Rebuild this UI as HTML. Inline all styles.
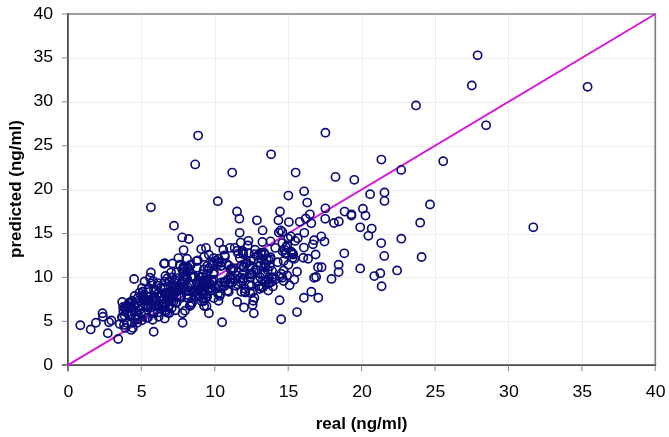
<!DOCTYPE html>
<html><head><meta charset="utf-8"><title>chart</title>
<style>
html,body{margin:0;padding:0;background:#fff;}
svg{display:block}
text{font-family:"Liberation Sans",Arial,sans-serif;fill:#000}
.t{font-size:16.8px}
.b{font-size:17px;font-weight:bold}
</style></head><body>
<svg width="669" height="437" viewBox="0 0 669 437">
<rect width="669" height="437" fill="#fff"/>
<path d="M141.5 14.0V365.2M67.9 321.5H655.3M215.5 14.0V365.2M67.9 277.5H655.3M288.5 14.0V365.2M67.9 234.5H655.3M362.5 14.0V365.2M67.9 190.5H655.3M435.5 14.0V365.2M67.9 146.5H655.3M508.5 14.0V365.2M67.9 102.5H655.3M582.5 14.0V365.2M67.9 58.5H655.3" stroke="#ededed" stroke-width="1" fill="none"/>
<path d="M67.9 14.0H655.3V365.2" fill="none" stroke="#808080" stroke-width="1.7"/>
<path d="M67.9 13.2V371.2M61.9 365.2H656.1" fill="none" stroke="#4a4a4a" stroke-width="1.8"/>
<path d="M67.9 365.2v6M67.9 365.2h-6M141.3 365.2v6M67.9 321.3h-6M214.8 365.2v6M67.9 277.4h-6M288.2 365.2v6M67.9 233.5h-6M361.6 365.2v6M67.9 189.6h-6M435.0 365.2v6M67.9 145.7h-6M508.5 365.2v6M67.9 101.8h-6M581.9 365.2v6M67.9 57.9h-6M655.3 365.2v6M67.9 14.0h-6" stroke="#8a8a8a" stroke-width="1" fill="none"/>
<text class="t" transform="translate(68.3 396.5) scale(1.054 1)" text-anchor="middle">0</text><text class="t" transform="translate(53.2 369.7) scale(1.054 1)" text-anchor="end">0</text>
<text class="t" transform="translate(141.7 396.5) scale(1.054 1)" text-anchor="middle">5</text><text class="t" transform="translate(53.2 325.8) scale(1.054 1)" text-anchor="end">5</text>
<text class="t" transform="translate(215.2 396.5) scale(1.054 1)" text-anchor="middle">10</text><text class="t" transform="translate(53.2 281.9) scale(1.054 1)" text-anchor="end">10</text>
<text class="t" transform="translate(288.6 396.5) scale(1.054 1)" text-anchor="middle">15</text><text class="t" transform="translate(53.2 238.0) scale(1.054 1)" text-anchor="end">15</text>
<text class="t" transform="translate(362.0 396.5) scale(1.054 1)" text-anchor="middle">20</text><text class="t" transform="translate(53.2 194.1) scale(1.054 1)" text-anchor="end">20</text>
<text class="t" transform="translate(435.4 396.5) scale(1.054 1)" text-anchor="middle">25</text><text class="t" transform="translate(53.2 150.2) scale(1.054 1)" text-anchor="end">25</text>
<text class="t" transform="translate(508.9 396.5) scale(1.054 1)" text-anchor="middle">30</text><text class="t" transform="translate(53.2 106.3) scale(1.054 1)" text-anchor="end">30</text>
<text class="t" transform="translate(582.3 396.5) scale(1.054 1)" text-anchor="middle">35</text><text class="t" transform="translate(53.2 62.4) scale(1.054 1)" text-anchor="end">35</text>
<text class="t" transform="translate(655.7 396.5) scale(1.054 1)" text-anchor="middle">40</text><text class="t" transform="translate(53.2 18.5) scale(1.054 1)" text-anchor="end">40</text>
<text class="b" x="361.5" y="428.5" text-anchor="middle">real (ng/ml)</text>
<text class="b" transform="translate(21.2 189) rotate(-90)" text-anchor="middle">predicted (ng/ml)</text>
<path d="M67.9 365.2L655.3 14.0" stroke="#d818d8" stroke-width="2" fill="none"/>
<g fill="none" stroke="#0a0a78" stroke-width="1.65">
<circle cx="477.6" cy="55.3" r="4.1"/><circle cx="471.8" cy="85.5" r="4.1"/><circle cx="486.1" cy="125.3" r="4.1"/><circle cx="587.6" cy="86.8" r="4.1"/><circle cx="443.2" cy="161.2" r="4.1"/><circle cx="401.2" cy="169.9" r="4.1"/><circle cx="430.0" cy="204.5" r="4.1"/><circle cx="420.2" cy="222.7" r="4.1"/><circle cx="533.3" cy="227.3" r="4.1"/><circle cx="421.6" cy="257.0" r="4.1"/><circle cx="325.4" cy="132.7" r="4.1"/><circle cx="271.1" cy="154.3" r="4.1"/><circle cx="295.6" cy="172.6" r="4.1"/><circle cx="335.5" cy="176.9" r="4.1"/><circle cx="354.3" cy="179.8" r="4.1"/><circle cx="381.4" cy="159.6" r="4.1"/><circle cx="288.4" cy="195.6" r="4.1"/><circle cx="304.1" cy="191.3" r="4.1"/><circle cx="307.2" cy="202.6" r="4.1"/><circle cx="370.1" cy="194.2" r="4.1"/><circle cx="384.5" cy="192.5" r="4.1"/><circle cx="384.5" cy="200.9" r="4.1"/><circle cx="198.1" cy="135.6" r="4.1"/><circle cx="195.2" cy="164.4" r="4.1"/><circle cx="232.2" cy="172.6" r="4.1"/><circle cx="217.8" cy="201.2" r="4.1"/><circle cx="416.0" cy="105.4" r="4.1"/><circle cx="362.9" cy="208.7" r="4.1"/><circle cx="365.5" cy="215.6" r="4.1"/><circle cx="344.6" cy="211.6" r="4.1"/><circle cx="351.4" cy="214.3" r="4.1"/><circle cx="351.4" cy="215.6" r="4.1"/><circle cx="334.0" cy="223.0" r="4.1"/><circle cx="338.8" cy="221.5" r="4.1"/><circle cx="360.2" cy="227.3" r="4.1"/><circle cx="371.7" cy="228.6" r="4.1"/><circle cx="368.4" cy="235.8" r="4.1"/><circle cx="401.3" cy="238.7" r="4.1"/><circle cx="381.2" cy="243.1" r="4.1"/><circle cx="344.3" cy="253.3" r="4.1"/><circle cx="384.3" cy="255.9" r="4.1"/><circle cx="338.6" cy="264.7" r="4.1"/><circle cx="360.2" cy="268.4" r="4.1"/><circle cx="338.6" cy="272.1" r="4.1"/><circle cx="331.5" cy="278.9" r="4.1"/><circle cx="374.3" cy="276.1" r="4.1"/><circle cx="380.3" cy="273.2" r="4.1"/><circle cx="397.1" cy="270.4" r="4.1"/><circle cx="381.6" cy="286.2" r="4.1"/><circle cx="237.0" cy="211.5" r="4.1"/><circle cx="239.4" cy="218.7" r="4.1"/><circle cx="256.9" cy="220.3" r="4.1"/><circle cx="239.7" cy="232.8" r="4.1"/><circle cx="262.6" cy="230.4" r="4.1"/><circle cx="280.0" cy="211.5" r="4.1"/><circle cx="278.4" cy="220.3" r="4.1"/><circle cx="278.8" cy="232.6" r="4.1"/><circle cx="282.3" cy="231.9" r="4.1"/><circle cx="280.6" cy="230.4" r="4.1"/><circle cx="288.9" cy="222.1" r="4.1"/><circle cx="325.4" cy="208.3" r="4.1"/><circle cx="309.9" cy="214.3" r="4.1"/><circle cx="305.7" cy="218.5" r="4.1"/><circle cx="299.7" cy="221.8" r="4.1"/><circle cx="311.3" cy="223.3" r="4.1"/><circle cx="325.2" cy="218.8" r="4.1"/><circle cx="304.3" cy="232.8" r="4.1"/><circle cx="290.8" cy="236.4" r="4.1"/><circle cx="321.3" cy="236.4" r="4.1"/><circle cx="288.1" cy="238.6" r="4.1"/><circle cx="314.1" cy="240.2" r="4.1"/><circle cx="324.5" cy="241.6" r="4.1"/><circle cx="312.9" cy="244.3" r="4.1"/><circle cx="303.9" cy="247.6" r="4.1"/><circle cx="315.6" cy="254.5" r="4.1"/><circle cx="303.3" cy="257.7" r="4.1"/><circle cx="308.1" cy="258.7" r="4.1"/><circle cx="318.0" cy="267.3" r="4.1"/><circle cx="321.6" cy="267.3" r="4.1"/><circle cx="297.0" cy="271.8" r="4.1"/><circle cx="314.1" cy="277.8" r="4.1"/><circle cx="316.1" cy="277.0" r="4.1"/><circle cx="294.3" cy="279.6" r="4.1"/><circle cx="294.3" cy="258.7" r="4.1"/><circle cx="282.4" cy="243.1" r="4.1"/><circle cx="287.2" cy="245.5" r="4.1"/><circle cx="290.8" cy="251.5" r="4.1"/><circle cx="286.0" cy="253.9" r="4.1"/><circle cx="293.2" cy="254.5" r="4.1"/><circle cx="283.6" cy="261.1" r="4.1"/><circle cx="288.4" cy="264.7" r="4.1"/><circle cx="283.6" cy="270.6" r="4.1"/><circle cx="287.2" cy="275.4" r="4.1"/><circle cx="282.4" cy="277.8" r="4.1"/><circle cx="289.6" cy="285.2" r="4.1"/><circle cx="283.6" cy="281.0" r="4.1"/><circle cx="311.3" cy="291.7" r="4.1"/><circle cx="303.9" cy="297.7" r="4.1"/><circle cx="318.3" cy="297.7" r="4.1"/><circle cx="297.0" cy="312.1" r="4.1"/><circle cx="279.6" cy="300.3" r="4.1"/><circle cx="281.2" cy="319.2" r="4.1"/><circle cx="219.1" cy="242.6" r="4.1"/><circle cx="240.7" cy="242.6" r="4.1"/><circle cx="248.4" cy="240.8" r="4.1"/><circle cx="247.8" cy="245.5" r="4.1"/><circle cx="262.4" cy="242.0" r="4.1"/><circle cx="270.6" cy="241.4" r="4.1"/><circle cx="206.0" cy="247.9" r="4.1"/><circle cx="201.2" cy="249.1" r="4.1"/><circle cx="223.3" cy="249.7" r="4.1"/><circle cx="229.9" cy="247.9" r="4.1"/><circle cx="234.7" cy="247.9" r="4.1"/><circle cx="237.1" cy="250.9" r="4.1"/><circle cx="255.0" cy="249.7" r="4.1"/><circle cx="275.3" cy="247.9" r="4.1"/><circle cx="204.2" cy="256.9" r="4.1"/><circle cx="213.8" cy="258.1" r="4.1"/><circle cx="207.2" cy="265.9" r="4.1"/><circle cx="182.2" cy="237.4" r="4.1"/><circle cx="188.8" cy="239.0" r="4.1"/><circle cx="183.6" cy="250.1" r="4.1"/><circle cx="178.4" cy="258.1" r="4.1"/><circle cx="187.0" cy="258.7" r="4.1"/><circle cx="164.8" cy="263.2" r="4.1"/><circle cx="164.0" cy="263.7" r="4.1"/><circle cx="172.6" cy="263.5" r="4.1"/><circle cx="150.9" cy="272.4" r="4.1"/><circle cx="149.9" cy="277.8" r="4.1"/><circle cx="134.1" cy="279.0" r="4.1"/><circle cx="144.5" cy="281.4" r="4.1"/><circle cx="165.4" cy="276.0" r="4.1"/><circle cx="196.5" cy="261.1" r="4.1"/><circle cx="190.0" cy="265.3" r="4.1"/><circle cx="179.8" cy="264.7" r="4.1"/><circle cx="182.2" cy="269.4" r="4.1"/><circle cx="134.7" cy="295.9" r="4.1"/><circle cx="122.2" cy="301.9" r="4.1"/><circle cx="102.5" cy="313.3" r="4.1"/><circle cx="103.0" cy="316.8" r="4.1"/><circle cx="95.9" cy="322.8" r="4.1"/><circle cx="80.3" cy="325.2" r="4.1"/><circle cx="111.4" cy="320.4" r="4.1"/><circle cx="109.0" cy="322.2" r="4.1"/><circle cx="119.8" cy="324.0" r="4.1"/><circle cx="125.8" cy="309.7" r="4.1"/><circle cx="129.4" cy="303.7" r="4.1"/><circle cx="134.1" cy="304.9" r="4.1"/><circle cx="124.6" cy="315.6" r="4.1"/><circle cx="131.7" cy="314.4" r="4.1"/><circle cx="136.5" cy="310.9" r="4.1"/><circle cx="127.0" cy="322.8" r="4.1"/><circle cx="131.7" cy="322.8" r="4.1"/><circle cx="137.7" cy="319.2" r="4.1"/><circle cx="90.7" cy="329.4" r="4.1"/><circle cx="107.8" cy="333.3" r="4.1"/><circle cx="118.2" cy="339.0" r="4.1"/><circle cx="124.0" cy="324.9" r="4.1"/><circle cx="125.2" cy="327.9" r="4.1"/><circle cx="132.9" cy="327.9" r="4.1"/><circle cx="135.3" cy="319.0" r="4.1"/><circle cx="142.0" cy="288.1" r="4.1"/><circle cx="182.6" cy="322.8" r="4.1"/><circle cx="164.7" cy="318.6" r="4.1"/><circle cx="152.7" cy="319.8" r="4.1"/><circle cx="182.6" cy="313.3" r="4.1"/><circle cx="204.1" cy="306.1" r="4.1"/><circle cx="208.9" cy="313.3" r="4.1"/><circle cx="201.7" cy="301.3" r="4.1"/><circle cx="153.7" cy="331.7" r="4.1"/><circle cx="158.7" cy="316.7" r="4.1"/><circle cx="169.5" cy="313.1" r="4.1"/><circle cx="142.0" cy="320.3" r="4.1"/><circle cx="131.2" cy="329.9" r="4.1"/><circle cx="175.4" cy="310.2" r="4.1"/><circle cx="185.0" cy="310.8" r="4.1"/><circle cx="165.9" cy="311.4" r="4.1"/><circle cx="206.5" cy="306.0" r="4.1"/><circle cx="189.8" cy="306.0" r="4.1"/><circle cx="137.2" cy="322.7" r="4.1"/><circle cx="146.7" cy="317.9" r="4.1"/><circle cx="222.1" cy="322.2" r="4.1"/><circle cx="237.1" cy="301.9" r="4.1"/><circle cx="244.0" cy="307.5" r="4.1"/><circle cx="253.8" cy="313.3" r="4.1"/><circle cx="252.6" cy="304.9" r="4.1"/><circle cx="254.4" cy="297.7" r="4.1"/><circle cx="253.2" cy="300.7" r="4.1"/><circle cx="268.2" cy="290.5" r="4.1"/><circle cx="272.9" cy="286.4" r="4.1"/><circle cx="218.5" cy="300.7" r="4.1"/><circle cx="219.7" cy="295.9" r="4.1"/><circle cx="207.2" cy="296.5" r="4.1"/><circle cx="241.3" cy="291.7" r="4.1"/><circle cx="244.8" cy="291.7" r="4.1"/><circle cx="228.7" cy="291.7" r="4.1"/><circle cx="250.2" cy="292.9" r="4.1"/><circle cx="265.2" cy="282.2" r="4.1"/><circle cx="275.3" cy="279.2" r="4.1"/><circle cx="257.4" cy="281.0" r="4.1"/><circle cx="235.9" cy="285.8" r="4.1"/><circle cx="242.5" cy="281.0" r="4.1"/><circle cx="251.4" cy="285.8" r="4.1"/><circle cx="230.5" cy="282.2" r="4.1"/><circle cx="223.9" cy="282.2" r="4.1"/><circle cx="215.5" cy="288.1" r="4.1"/><circle cx="210.8" cy="290.5" r="4.1"/><circle cx="202.4" cy="290.5" r="4.1"/><circle cx="203.6" cy="282.2" r="4.1"/><circle cx="212.0" cy="281.0" r="4.1"/><circle cx="219.1" cy="285.8" r="4.1"/><circle cx="174.0" cy="225.7" r="4.1"/><circle cx="208.9" cy="254.7" r="4.1"/><circle cx="197.0" cy="267.8" r="4.1"/><circle cx="150.9" cy="207.3" r="4.1"/><circle cx="200.1" cy="280.9" r="4.1"/><circle cx="225.3" cy="282.1" r="4.1"/><circle cx="230.5" cy="275.9" r="4.1"/><circle cx="202.3" cy="284.7" r="4.1"/><circle cx="209.0" cy="268.2" r="4.1"/><circle cx="169.8" cy="297.1" r="4.1"/><circle cx="187.9" cy="267.2" r="4.1"/><circle cx="285.3" cy="252.9" r="4.1"/><circle cx="260.8" cy="258.5" r="4.1"/><circle cx="264.2" cy="263.7" r="4.1"/><circle cx="151.5" cy="304.7" r="4.1"/><circle cx="137.7" cy="298.1" r="4.1"/><circle cx="172.6" cy="286.5" r="4.1"/><circle cx="155.7" cy="291.1" r="4.1"/><circle cx="129.7" cy="306.2" r="4.1"/><circle cx="185.1" cy="287.0" r="4.1"/><circle cx="268.1" cy="279.0" r="4.1"/><circle cx="295.1" cy="240.9" r="4.1"/><circle cx="250.0" cy="273.8" r="4.1"/><circle cx="153.9" cy="289.8" r="4.1"/><circle cx="148.8" cy="292.1" r="4.1"/><circle cx="238.2" cy="253.6" r="4.1"/><circle cx="122.5" cy="317.8" r="4.1"/><circle cx="130.0" cy="316.3" r="4.1"/><circle cx="246.9" cy="263.1" r="4.1"/><circle cx="243.4" cy="267.4" r="4.1"/><circle cx="263.0" cy="274.2" r="4.1"/><circle cx="187.1" cy="278.8" r="4.1"/><circle cx="251.4" cy="274.7" r="4.1"/><circle cx="197.9" cy="293.9" r="4.1"/><circle cx="205.5" cy="279.9" r="4.1"/><circle cx="172.0" cy="277.4" r="4.1"/><circle cx="198.2" cy="289.9" r="4.1"/><circle cx="152.9" cy="313.0" r="4.1"/><circle cx="187.5" cy="268.3" r="4.1"/><circle cx="208.3" cy="289.7" r="4.1"/><circle cx="292.7" cy="253.4" r="4.1"/><circle cx="167.2" cy="295.6" r="4.1"/><circle cx="174.7" cy="280.3" r="4.1"/><circle cx="141.3" cy="313.9" r="4.1"/><circle cx="160.2" cy="301.1" r="4.1"/><circle cx="199.0" cy="296.4" r="4.1"/><circle cx="153.1" cy="281.1" r="4.1"/><circle cx="203.8" cy="269.5" r="4.1"/><circle cx="180.3" cy="295.7" r="4.1"/><circle cx="189.2" cy="284.9" r="4.1"/><circle cx="250.4" cy="277.4" r="4.1"/><circle cx="202.2" cy="291.6" r="4.1"/><circle cx="263.1" cy="287.3" r="4.1"/><circle cx="180.8" cy="289.8" r="4.1"/><circle cx="258.9" cy="286.0" r="4.1"/><circle cx="148.2" cy="289.0" r="4.1"/><circle cx="212.1" cy="287.8" r="4.1"/><circle cx="292.5" cy="258.0" r="4.1"/><circle cx="170.0" cy="299.4" r="4.1"/><circle cx="220.2" cy="294.0" r="4.1"/><circle cx="213.5" cy="279.7" r="4.1"/><circle cx="212.0" cy="281.5" r="4.1"/><circle cx="207.3" cy="281.5" r="4.1"/><circle cx="193.0" cy="277.6" r="4.1"/><circle cx="139.6" cy="309.9" r="4.1"/><circle cx="175.0" cy="291.1" r="4.1"/><circle cx="260.9" cy="252.6" r="4.1"/><circle cx="243.8" cy="278.3" r="4.1"/><circle cx="138.8" cy="300.5" r="4.1"/><circle cx="197.2" cy="283.7" r="4.1"/><circle cx="145.7" cy="304.6" r="4.1"/><circle cx="253.8" cy="259.6" r="4.1"/><circle cx="281.1" cy="273.8" r="4.1"/><circle cx="164.3" cy="298.5" r="4.1"/><circle cx="139.4" cy="292.7" r="4.1"/><circle cx="242.9" cy="251.1" r="4.1"/><circle cx="210.1" cy="288.0" r="4.1"/><circle cx="151.2" cy="283.2" r="4.1"/><circle cx="218.6" cy="258.7" r="4.1"/><circle cx="133.7" cy="309.7" r="4.1"/><circle cx="176.8" cy="289.9" r="4.1"/><circle cx="273.0" cy="277.3" r="4.1"/><circle cx="191.4" cy="284.4" r="4.1"/><circle cx="265.1" cy="273.7" r="4.1"/><circle cx="265.7" cy="280.1" r="4.1"/><circle cx="279.7" cy="276.6" r="4.1"/><circle cx="191.5" cy="276.5" r="4.1"/><circle cx="203.2" cy="287.4" r="4.1"/><circle cx="232.1" cy="282.8" r="4.1"/><circle cx="178.8" cy="286.7" r="4.1"/><circle cx="230.5" cy="269.2" r="4.1"/><circle cx="234.7" cy="278.7" r="4.1"/><circle cx="203.7" cy="285.9" r="4.1"/><circle cx="194.3" cy="276.8" r="4.1"/><circle cx="169.1" cy="292.4" r="4.1"/><circle cx="171.1" cy="272.5" r="4.1"/><circle cx="145.1" cy="312.4" r="4.1"/><circle cx="291.7" cy="252.5" r="4.1"/><circle cx="204.8" cy="281.4" r="4.1"/><circle cx="203.1" cy="274.1" r="4.1"/><circle cx="214.2" cy="286.2" r="4.1"/><circle cx="200.7" cy="277.5" r="4.1"/><circle cx="252.6" cy="291.8" r="4.1"/><circle cx="261.9" cy="254.7" r="4.1"/><circle cx="243.4" cy="279.1" r="4.1"/><circle cx="123.3" cy="311.0" r="4.1"/><circle cx="241.8" cy="265.3" r="4.1"/><circle cx="205.0" cy="292.1" r="4.1"/><circle cx="272.0" cy="281.7" r="4.1"/><circle cx="232.0" cy="270.1" r="4.1"/><circle cx="164.0" cy="307.0" r="4.1"/><circle cx="176.5" cy="296.6" r="4.1"/><circle cx="184.7" cy="267.7" r="4.1"/><circle cx="220.9" cy="265.9" r="4.1"/><circle cx="260.2" cy="277.3" r="4.1"/><circle cx="131.2" cy="307.3" r="4.1"/><circle cx="142.6" cy="295.1" r="4.1"/><circle cx="285.9" cy="247.2" r="4.1"/><circle cx="175.1" cy="292.9" r="4.1"/><circle cx="183.3" cy="281.9" r="4.1"/><circle cx="188.1" cy="298.3" r="4.1"/><circle cx="216.5" cy="260.7" r="4.1"/><circle cx="237.1" cy="275.6" r="4.1"/><circle cx="262.6" cy="280.7" r="4.1"/><circle cx="254.7" cy="254.1" r="4.1"/><circle cx="258.4" cy="263.0" r="4.1"/><circle cx="178.8" cy="289.0" r="4.1"/><circle cx="250.1" cy="265.6" r="4.1"/><circle cx="269.7" cy="282.3" r="4.1"/><circle cx="213.4" cy="274.0" r="4.1"/><circle cx="194.2" cy="291.4" r="4.1"/><circle cx="147.2" cy="305.6" r="4.1"/><circle cx="127.0" cy="313.0" r="4.1"/><circle cx="260.3" cy="265.8" r="4.1"/><circle cx="224.6" cy="255.3" r="4.1"/><circle cx="150.3" cy="307.7" r="4.1"/><circle cx="226.6" cy="263.7" r="4.1"/><circle cx="148.1" cy="307.0" r="4.1"/><circle cx="205.2" cy="286.2" r="4.1"/><circle cx="217.8" cy="262.7" r="4.1"/><circle cx="265.1" cy="267.3" r="4.1"/><circle cx="167.1" cy="278.4" r="4.1"/><circle cx="203.9" cy="290.8" r="4.1"/><circle cx="228.7" cy="265.4" r="4.1"/><circle cx="164.3" cy="306.7" r="4.1"/><circle cx="165.6" cy="304.8" r="4.1"/><circle cx="131.3" cy="301.9" r="4.1"/><circle cx="203.2" cy="298.0" r="4.1"/><circle cx="172.5" cy="291.2" r="4.1"/><circle cx="269.7" cy="266.2" r="4.1"/><circle cx="173.9" cy="282.2" r="4.1"/><circle cx="202.9" cy="289.8" r="4.1"/><circle cx="135.7" cy="317.0" r="4.1"/><circle cx="237.6" cy="284.2" r="4.1"/><circle cx="160.2" cy="296.1" r="4.1"/><circle cx="264.7" cy="254.6" r="4.1"/><circle cx="185.9" cy="278.1" r="4.1"/><circle cx="188.9" cy="270.7" r="4.1"/><circle cx="252.0" cy="273.6" r="4.1"/><circle cx="142.2" cy="301.5" r="4.1"/><circle cx="190.8" cy="265.1" r="4.1"/><circle cx="158.1" cy="293.4" r="4.1"/><circle cx="195.4" cy="295.3" r="4.1"/><circle cx="268.7" cy="260.0" r="4.1"/><circle cx="177.6" cy="278.1" r="4.1"/><circle cx="210.7" cy="284.2" r="4.1"/><circle cx="145.5" cy="300.3" r="4.1"/><circle cx="212.0" cy="263.2" r="4.1"/><circle cx="152.8" cy="301.8" r="4.1"/><circle cx="245.7" cy="263.9" r="4.1"/><circle cx="202.1" cy="281.9" r="4.1"/><circle cx="217.1" cy="265.0" r="4.1"/><circle cx="268.1" cy="283.9" r="4.1"/><circle cx="169.7" cy="295.2" r="4.1"/><circle cx="122.0" cy="317.1" r="4.1"/><circle cx="173.2" cy="290.2" r="4.1"/><circle cx="265.5" cy="264.4" r="4.1"/><circle cx="142.6" cy="298.3" r="4.1"/><circle cx="165.0" cy="287.8" r="4.1"/><circle cx="240.8" cy="277.7" r="4.1"/><circle cx="203.4" cy="289.8" r="4.1"/><circle cx="192.1" cy="302.4" r="4.1"/><circle cx="213.8" cy="298.1" r="4.1"/><circle cx="175.6" cy="302.8" r="4.1"/><circle cx="227.1" cy="279.9" r="4.1"/><circle cx="129.0" cy="307.2" r="4.1"/><circle cx="213.9" cy="272.6" r="4.1"/><circle cx="159.9" cy="308.2" r="4.1"/><circle cx="171.7" cy="307.9" r="4.1"/><circle cx="267.7" cy="270.3" r="4.1"/><circle cx="124.5" cy="307.9" r="4.1"/><circle cx="203.9" cy="301.0" r="4.1"/><circle cx="282.8" cy="251.3" r="4.1"/><circle cx="203.9" cy="285.1" r="4.1"/><circle cx="174.2" cy="287.2" r="4.1"/><circle cx="157.5" cy="285.6" r="4.1"/><circle cx="159.8" cy="296.9" r="4.1"/><circle cx="167.5" cy="312.8" r="4.1"/><circle cx="197.9" cy="260.5" r="4.1"/><circle cx="227.5" cy="290.7" r="4.1"/><circle cx="132.2" cy="300.8" r="4.1"/><circle cx="255.6" cy="269.5" r="4.1"/><circle cx="149.5" cy="300.7" r="4.1"/><circle cx="261.6" cy="287.2" r="4.1"/><circle cx="243.3" cy="254.2" r="4.1"/><circle cx="261.0" cy="253.0" r="4.1"/><circle cx="197.9" cy="282.7" r="4.1"/><circle cx="207.0" cy="279.6" r="4.1"/><circle cx="248.9" cy="253.2" r="4.1"/><circle cx="144.2" cy="300.5" r="4.1"/><circle cx="164.9" cy="310.5" r="4.1"/><circle cx="221.8" cy="262.6" r="4.1"/><circle cx="143.2" cy="296.8" r="4.1"/><circle cx="231.5" cy="278.8" r="4.1"/><circle cx="147.9" cy="307.5" r="4.1"/><circle cx="270.6" cy="259.3" r="4.1"/><circle cx="183.8" cy="276.2" r="4.1"/><circle cx="142.9" cy="291.7" r="4.1"/><circle cx="258.0" cy="255.2" r="4.1"/><circle cx="183.7" cy="278.8" r="4.1"/><circle cx="191.0" cy="276.7" r="4.1"/><circle cx="245.2" cy="292.5" r="4.1"/><circle cx="202.0" cy="284.8" r="4.1"/><circle cx="156.1" cy="299.6" r="4.1"/><circle cx="146.5" cy="300.5" r="4.1"/><circle cx="173.4" cy="301.7" r="4.1"/><circle cx="154.1" cy="305.6" r="4.1"/><circle cx="183.5" cy="272.3" r="4.1"/><circle cx="164.8" cy="293.9" r="4.1"/><circle cx="183.2" cy="289.3" r="4.1"/><circle cx="250.6" cy="260.7" r="4.1"/><circle cx="187.5" cy="287.0" r="4.1"/><circle cx="212.6" cy="265.1" r="4.1"/><circle cx="194.9" cy="292.6" r="4.1"/><circle cx="164.4" cy="281.7" r="4.1"/><circle cx="168.1" cy="297.8" r="4.1"/><circle cx="158.0" cy="283.1" r="4.1"/><circle cx="221.3" cy="265.8" r="4.1"/><circle cx="240.7" cy="282.6" r="4.1"/><circle cx="240.0" cy="258.3" r="4.1"/><circle cx="233.6" cy="268.1" r="4.1"/><circle cx="127.2" cy="306.4" r="4.1"/><circle cx="145.5" cy="299.2" r="4.1"/><circle cx="160.6" cy="287.8" r="4.1"/><circle cx="224.4" cy="285.9" r="4.1"/><circle cx="183.8" cy="266.4" r="4.1"/><circle cx="208.2" cy="270.8" r="4.1"/><circle cx="163.1" cy="303.7" r="4.1"/><circle cx="164.7" cy="293.0" r="4.1"/><circle cx="230.4" cy="278.4" r="4.1"/><circle cx="232.7" cy="269.5" r="4.1"/><circle cx="167.4" cy="298.9" r="4.1"/><circle cx="123.1" cy="306.9" r="4.1"/><circle cx="297.7" cy="238.2" r="4.1"/><circle cx="242.5" cy="274.4" r="4.1"/><circle cx="189.3" cy="291.3" r="4.1"/><circle cx="218.0" cy="293.7" r="4.1"/><circle cx="180.5" cy="297.2" r="4.1"/><circle cx="245.3" cy="289.1" r="4.1"/><circle cx="145.7" cy="300.8" r="4.1"/><circle cx="169.1" cy="282.1" r="4.1"/><circle cx="176.4" cy="272.5" r="4.1"/><circle cx="128.8" cy="303.0" r="4.1"/><circle cx="259.6" cy="289.0" r="4.1"/><circle cx="277.8" cy="262.2" r="4.1"/><circle cx="264.1" cy="252.7" r="4.1"/><circle cx="249.1" cy="285.0" r="4.1"/><circle cx="221.5" cy="282.4" r="4.1"/><circle cx="270.6" cy="257.3" r="4.1"/><circle cx="224.9" cy="256.5" r="4.1"/><circle cx="243.9" cy="266.2" r="4.1"/><circle cx="138.0" cy="315.4" r="4.1"/><circle cx="138.3" cy="306.0" r="4.1"/><circle cx="205.8" cy="294.6" r="4.1"/><circle cx="272.0" cy="270.7" r="4.1"/><circle cx="188.4" cy="298.4" r="4.1"/><circle cx="162.8" cy="288.0" r="4.1"/><circle cx="142.7" cy="298.5" r="4.1"/><circle cx="184.0" cy="266.7" r="4.1"/><circle cx="205.9" cy="297.9" r="4.1"/><circle cx="206.1" cy="274.8" r="4.1"/><circle cx="126.7" cy="308.1" r="4.1"/><circle cx="147.4" cy="296.4" r="4.1"/><circle cx="155.1" cy="299.2" r="4.1"/><circle cx="266.7" cy="260.1" r="4.1"/><circle cx="190.8" cy="302.9" r="4.1"/><circle cx="158.3" cy="305.7" r="4.1"/><circle cx="183.8" cy="276.4" r="4.1"/><circle cx="284.4" cy="249.6" r="4.1"/><circle cx="253.9" cy="272.4" r="4.1"/><circle cx="242.5" cy="252.7" r="4.1"/><circle cx="181.2" cy="287.5" r="4.1"/><circle cx="191.0" cy="304.8" r="4.1"/><circle cx="154.1" cy="296.1" r="4.1"/><circle cx="148.0" cy="317.6" r="4.1"/><circle cx="153.9" cy="312.9" r="4.1"/><circle cx="157.8" cy="312.4" r="4.1"/><circle cx="162.4" cy="307.2" r="4.1"/><circle cx="168.4" cy="307.6" r="4.1"/><circle cx="171.6" cy="301.4" r="4.1"/><circle cx="176.7" cy="302.4" r="4.1"/><circle cx="181.3" cy="297.7" r="4.1"/><circle cx="186.8" cy="294.7" r="4.1"/><circle cx="192.4" cy="291.0" r="4.1"/><circle cx="199.8" cy="288.6" r="4.1"/>
</g>
</svg></body></html>
